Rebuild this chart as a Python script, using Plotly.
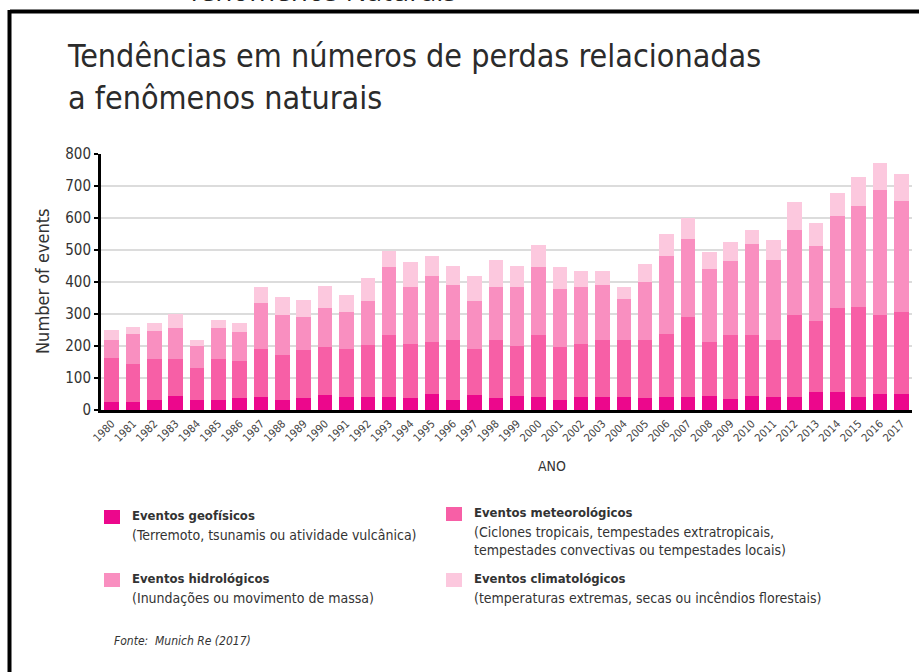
import plotly.graph_objects as go

years = [str(y) for y in range(1980, 2018)]

geofisicos = [26, 26, 30, 45, 30, 30, 36, 40, 30, 36,
              47, 40, 40, 40, 36, 51, 31, 47, 36, 45,
              40, 31, 40, 40, 40, 36, 40, 40, 45, 34,
              45, 40, 40, 55, 55, 40, 51, 51]
meteorologicos = [135, 119, 130, 115, 101, 130, 117, 152, 143, 150,
                  150, 151, 164, 194, 170, 161, 187, 144, 182, 155,
                  194, 166, 166, 180, 178, 183, 197, 252, 167, 201,
                  190, 180, 257, 222, 264, 282, 246, 254]
hidrologicos = [59, 91, 88, 96, 69, 96, 91, 143, 125, 105,
                122, 114, 137, 214, 178, 207, 173, 151, 167, 185,
                214, 181, 177, 172, 129, 180, 245, 243, 228, 230,
                283, 250, 266, 236, 286, 315, 391, 348]
climatologicos = [29, 23, 24, 43, 20, 24, 29, 50, 54, 52,
                  67, 53, 71, 48, 77, 62, 58, 77, 85, 64,
                  68, 69, 50, 41, 38, 56, 67, 65, 54, 59,
                  45, 60, 86, 72, 73, 90, 83, 84]

series_names = ["Eventos geofísicos", "Eventos meteorológicos",
                "Eventos hidrológicos", "Eventos climatológicos"]
series_colors = ["#EC078C", "#F75FA6", "#F98FC0", "#FCC8DE"]
series_notes = ["(Terremoto, tsunamis ou atividade vulcânica)",
                "(Ciclones tropicais, tempestades extratropicais,<br>tempestades convectivas ou tempestades locais)",
                "(Inundações ou movimento de massa)",
                "(temperaturas extremas, secas ou incêndios florestais)"]
y_ticks = [0, 100, 200, 300, 400, 500, 600, 700, 800]

FONT = "DejaVu Sans Condensed, Roboto, sans-serif"
TXT = "#333333"

W, H = 919, 672
L, R, T, B = 101, 912, 154, 410


def px(x):
    return (x - L) / (R - L)


def py(y):
    return (B - y) / (B - T)


fig = go.Figure()
for name, vals, col in zip(series_names,
                           [geofisicos, meteorologicos, hidrologicos, climatologicos],
                           series_colors):
    fig.add_trace(go.Bar(x=years, y=vals, name=name, marker=dict(color=col, line=dict(width=0)),
                         showlegend=False))

annotations = []
shapes = []

# Title
annotations.append(dict(text="Tendências em números de perdas relacionadas<br>a fenômenos naturais",
                        x=px(65), y=py(35), xref="paper", yref="paper", xanchor="left", yanchor="top",
                        showarrow=False, align="left",
                        font=dict(family=FONT, size=32, color="#2b2b2b")))
# Cut-off text at the very top
annotations.append(dict(text="fenômenos Naturais", x=px(188), y=py(11), xref="paper", yref="paper",
                        xanchor="left", yanchor="bottom", showarrow=False,
                        font=dict(family="Open Sans, sans-serif", size=28, color="#222222")))
# Y axis title
annotations.append(dict(text="Number of events", x=px(42), y=py(281), xref="paper", yref="paper",
                        xanchor="center", yanchor="middle", textangle=-90, showarrow=False,
                        font=dict(family=FONT, size=18, color=TXT)))
# X axis title
annotations.append(dict(text="ANO", x=px(552), y=py(466), xref="paper", yref="paper",
                        xanchor="center", yanchor="middle", showarrow=False,
                        font=dict(family=FONT, size=14, color=TXT)))

# Legend
leg_pos = [(104, 517), (446, 514), (104, 580), (446, 580)]
for (lx, ly), name, col, note in zip(leg_pos, series_names, series_colors, series_notes):
    shapes.append(dict(type="rect", xref="paper", yref="paper",
                       x0=px(lx), x1=px(lx + 16), y0=py(ly - 7), y1=py(ly + 7),
                       fillcolor=col, line=dict(width=0)))
    annotations.append(dict(text="<b>" + name + "</b>", x=px(lx + 26), y=py(ly - 2),
                            xref="paper", yref="paper", xanchor="left", yanchor="middle",
                            showarrow=False, font=dict(family=FONT, size=13, color=TXT)))
    annotations.append(dict(text=note, x=px(lx + 26), y=py(ly + 8),
                            xref="paper", yref="paper", xanchor="left", yanchor="top",
                            showarrow=False, align="left",
                            font=dict(family=FONT, size=14, color=TXT)))

annotations.append(dict(text="<i>Fonte:  Munich Re (2017)</i>", x=px(112), y=py(641),
                        xref="paper", yref="paper", xanchor="left", yanchor="middle",
                        showarrow=False, font=dict(family=FONT, size=12, color=TXT)))

# Frame lines (left and top)
shapes.append(dict(type="line", xref="paper", yref="paper", x0=px(10), x1=px(919),
                   y0=py(11.5), y1=py(11.5), line=dict(color="black", width=4)))
shapes.append(dict(type="line", xref="paper", yref="paper", x0=px(9.5), x1=px(9.5),
                   y0=py(10), y1=py(672), line=dict(color="black", width=4)))

fig.update_layout(
    width=W, height=H,
    margin=dict(l=L, r=W - R, t=T, b=H - B, pad=0),
    paper_bgcolor="white", plot_bgcolor="white",
    barmode="stack", bargap=0.32,
    showlegend=False,
    annotations=annotations, shapes=shapes,
    font=dict(family=FONT, color=TXT),
)
fig.update_xaxes(type="category", tickangle=-45, showline=True, linecolor="black", linewidth=3,
                 tickfont=dict(family=FONT, size=11, color="#444444"), ticks="", showgrid=False)
fig.update_yaxes(range=[0, 800], tickvals=y_ticks, showline=True, linecolor="black", linewidth=3,
                 ticks="outside", ticklen=4, tickwidth=2, tickcolor="black",
                 gridcolor="#dcdcdc", gridwidth=1.5, zeroline=False,
                 tickfont=dict(family=FONT, size=15, color=TXT))

fig.write_html("out.html", config={"displayModeBar": False},
               post_script="document.body.style.margin='0';document.body.style.overflow='hidden';")
